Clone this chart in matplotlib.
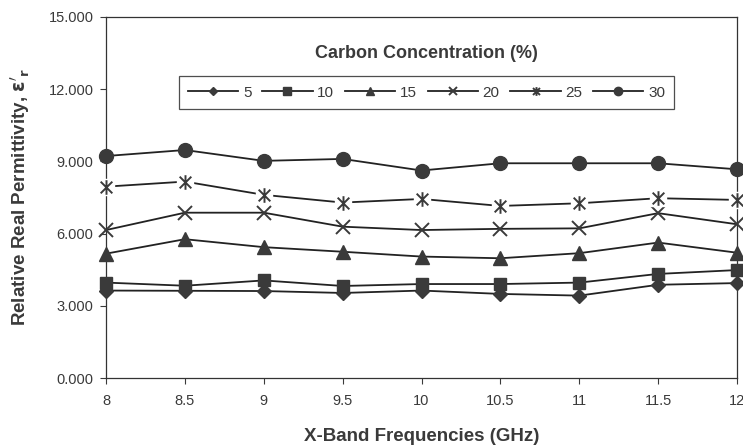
import matplotlib
matplotlib.use('Agg')
from matplotlib import pyplot as plt
from matplotlib.path import Path
from matplotlib.lines import Line2D
from matplotlib.ticker import FormatStrFormatter

plt.rcParams['font.family'] = ['Liberation Sans', 'DejaVu Sans']

freq = [8, 8.5, 9, 9.5, 10, 10.5, 11, 11.5, 12]
conc = ['5', '10', '15', '20', '25', '30']
eps_5 = [3.64, 3.63, 3.62, 3.54, 3.64, 3.50, 3.43, 3.88, 3.95]
eps_10 = [3.97, 3.84, 4.06, 3.83, 3.91, 3.91, 3.97, 4.33, 4.49]
eps_15 = [5.17, 5.77, 5.44, 5.25, 5.05, 4.98, 5.19, 5.63, 5.21]
eps_20 = [6.15, 6.87, 6.87, 6.29, 6.15, 6.20, 6.22, 6.85, 6.39]
eps_25 = [7.95, 8.16, 7.61, 7.29, 7.44, 7.15, 7.26, 7.47, 7.40]
eps_30 = [9.22, 9.47, 9.02, 9.10, 8.62, 8.92, 8.92, 8.92, 8.67]

dark = '#3a3a3a'
star = Path([(-1, -1), (1, 1), (-1, 1), (1, -1), (0, -1.25), (0, 1.25)],
            [Path.MOVETO, Path.LINETO, Path.MOVETO, Path.LINETO,
             Path.MOVETO, Path.LINETO])

fig = plt.figure(figsize=(7.43, 4.48), dpi=100)
ax = fig.add_axes([106 / 743, 1 - 378.3 / 448, 631 / 743, 361.6 / 448])

lw = 1.3
h5, = ax.plot(freq, eps_5, color='#222222', lw=lw, marker='D', ms=7.5,
              mfc=dark, mec=dark, clip_on=False, zorder=3)
h10, = ax.plot(freq, eps_10, color='#222222', lw=lw, marker='s', ms=9,
               mfc=dark, mec=dark, clip_on=False, zorder=3)
h15, = ax.plot(freq, eps_15, color='#222222', lw=lw, marker='^', ms=10,
               mfc=dark, mec=dark, clip_on=False, zorder=3)
h20, = ax.plot(freq, eps_20, color='#222222', lw=lw, marker='x', ms=9.5,
               mec=dark, mew=1.4, clip_on=False, zorder=3)
# white pad under the star markers gives the gaps in the line
ax.plot(freq, eps_25, color='#222222', lw=lw, marker='s', ms=12,
        mfc='white', mec='white', clip_on=False, zorder=3)
ax.plot(freq, eps_25, lw=0, marker=star, ms=10.5, mec=dark,
        mew=1.4, clip_on=False, zorder=4)
h25 = Line2D([], [], color='#222222', lw=lw, marker=star, ms=10.5,
             mec=dark, mew=1.4)
h30, = ax.plot(freq, eps_30, color='#222222', lw=lw, marker='o', ms=10,
               mfc=dark, mec=dark, clip_on=False, zorder=3)

ax.set_xlim(8, 12)
ax.set_ylim(0, 15)
ax.set_xticks(freq)
ax.set_xticklabels(['8', '8.5', '9', '9.5', '10', '10.5', '11', '11.5', '12'])
ax.set_yticks([0, 3, 6, 9, 12, 15])
ax.yaxis.set_major_formatter(FormatStrFormatter('%.3f'))
ax.tick_params(direction='out', length=4, width=0.8, colors=dark,
               labelsize=10.5, pad=5)
ax.tick_params(axis='x', pad=7)
for s in ax.spines.values():
    s.set_color('#333333')
    s.set_linewidth(0.9)

ax.set_xlabel('X-Band Frequencies (GHz)', fontsize=13.5, fontweight='bold',
              color=dark, labelpad=15)
ax.set_ylabel("Relative Real Permittivity, $\\mathbf{\\varepsilon'_r}$",
              fontsize=13.5, fontweight='bold', color=dark, labelpad=12)

leg = ax.legend([h5, h10, h15, h20, h25, h30], conc, ncol=6,
                loc='center', bbox_to_anchor=(0.508, 0.79),
                fontsize=11, markerscale=0.6, handlelength=3.3,
                handletextpad=0.3, columnspacing=0.7, frameon=True,
                fancybox=False, borderpad=0.6, borderaxespad=0)
leg.get_frame().set_edgecolor('#222222')
leg.get_frame().set_linewidth(0.9)
for t in leg.get_texts():
    t.set_color(dark)

ax.text(0.508, 0.897, 'Carbon Concentration (%)', transform=ax.transAxes,
        ha='center', va='center', fontsize=13, fontweight='bold', color=dark)

fig.savefig('out.png', dpi=100)
